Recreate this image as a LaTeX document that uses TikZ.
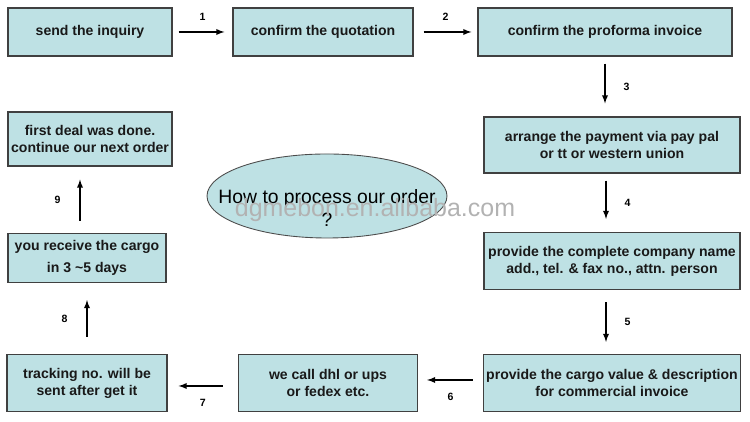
\documentclass[tikz,border=0pt]{standalone}
\usepackage{fontspec}
\setmainfont{Liberation Sans}
\usepackage{tikz}
\usetikzlibrary{arrows,shapes,positioning}
\definecolor{boxcyan}{RGB}{190,225,228}

\begin{document}
\begin{tikzpicture}%[->,>=latex]
\tikzstyle{stage}=[draw=black!75, line width=0.7pt, fill=boxcyan, shape=rectangle, inner sep=0pt, align=center, text=black!90, font=\bfseries\fontsize{8}{9.7}\selectfont]
\tikzstyle{question}=[draw=black!70, line width=0.5pt, fill=boxcyan, shape=ellipse, minimum width=4.8cm, minimum height=1.68cm, inner sep=0pt]
\tikzstyle{flow}=[-latex, line width=0.6pt]
\tikzstyle{num}=[font=\bfseries\fontsize{6}{7}\selectfont, inner sep=0pt]
\useasboundingbox (0,0) rectangle (15,8.44);

\node[stage, minimum width=3.28cm, minimum height=0.96cm] (0) at (1.8,7.8) {send the inquiry};
\node[stage, minimum width=3.6cm, minimum height=0.96cm] (1) at (6.46,7.8) {confirm the quotation};
\node[stage, minimum width=5.08cm, minimum height=0.96cm] (2) at (12.1,7.8) {confirm the proforma invoice};
\node[stage, minimum width=5.12cm, minimum height=1.12cm] (3) at (12.24,5.54) {arrange the payment via pay pal\\or tt or western union};
\node[stage, minimum width=5.12cm, minimum height=1.14cm] (4) at (12.24,3.22) {provide the complete company name\\add., tel. \& fax no., attn. person};
\node[stage, minimum width=5.14cm, minimum height=1.14cm] (5) at (12.24,0.78) {provide the cargo value \& description\\for commercial invoice};
\node[stage, minimum width=3.58cm, minimum height=1.14cm] (6) at (6.56,0.78) {we call dhl or ups\\or fedex etc.};
\node[stage, minimum width=3.2cm, minimum height=1.14cm] (7) at (1.74,0.78) {tracking no. will be\\sent after get it};
\node[stage, minimum width=3.16cm, minimum height=0.98cm] (8) at (1.74,3.28) {you receive the cargo\\[3pt]in 3 \textasciitilde5 days};
\node[stage, minimum width=3.28cm, minimum height=1.08cm] (9) at (1.8,5.66) {first deal was done.\\continue our next order};

\node[question] (q) at (6.54,4.52) {};
\node[align=center, font=\fontsize{11}{13}\selectfont, inner sep=0pt] (qt) at ([yshift=-0.24cm]q.center) {How to process our order\\?};

\draw[flow, shorten <=0.12cm, shorten >=0.16cm] (0.east) -- (1.west) node[num, midway, above=0.22cm] {1};
\draw[flow, shorten <=0.2cm, shorten >=0.12cm] (1.east) -- (2.west) node[num, midway, above=0.22cm] {2};
\draw[flow, shorten <=0.14cm, shorten >=0.26cm] (2.south) -- (2.south |- 3.north) node[num, midway, right=0.36cm] {3};
\draw[flow, shorten <=0.14cm, shorten >=0.26cm] ([xshift=-0.12cm]3.south) -- ([xshift=-0.12cm]3.south |- 4.north) node[num, midway, right=0.36cm] {4};
\draw[flow, shorten <=0.24cm, shorten >=0.24cm] ([xshift=-0.12cm]4.south) -- ([xshift=-0.12cm]4.south |- 5.north) node[num, midway, right=0.36cm] {5};
\draw[flow, shorten <=0.2cm, shorten >=0.18cm] ([yshift=0.06cm]5.west) -- ([yshift=0.06cm]5.west -| 6.east) node[num, midway, below=0.26cm] {6};
\draw[flow, shorten <=0.3cm, shorten >=0.22cm] ([yshift=-0.06cm]6.west) -- ([yshift=-0.06cm]6.west -| 7.east) node[num, midway, below=0.26cm] {7};
\draw[flow, shorten <=0.34cm, shorten >=0.34cm] (7.north) -- (7.north |- 8.south) node[num, midway, left=0.38cm] {8};
\draw[flow, shorten <=0.24cm, shorten >=0.26cm] ([xshift=-0.14cm]8.north) -- ([xshift=-0.14cm]8.north |- 9.south) node[num, midway, left=0.38cm] {9};

% watermark
\node[text=black!30, font=\fontsize{14.2}{16}\selectfont, inner sep=0pt] (w) at (7.5,4.24) {dgmebon.en.alibaba.com};
\end{tikzpicture}
\end{document}
